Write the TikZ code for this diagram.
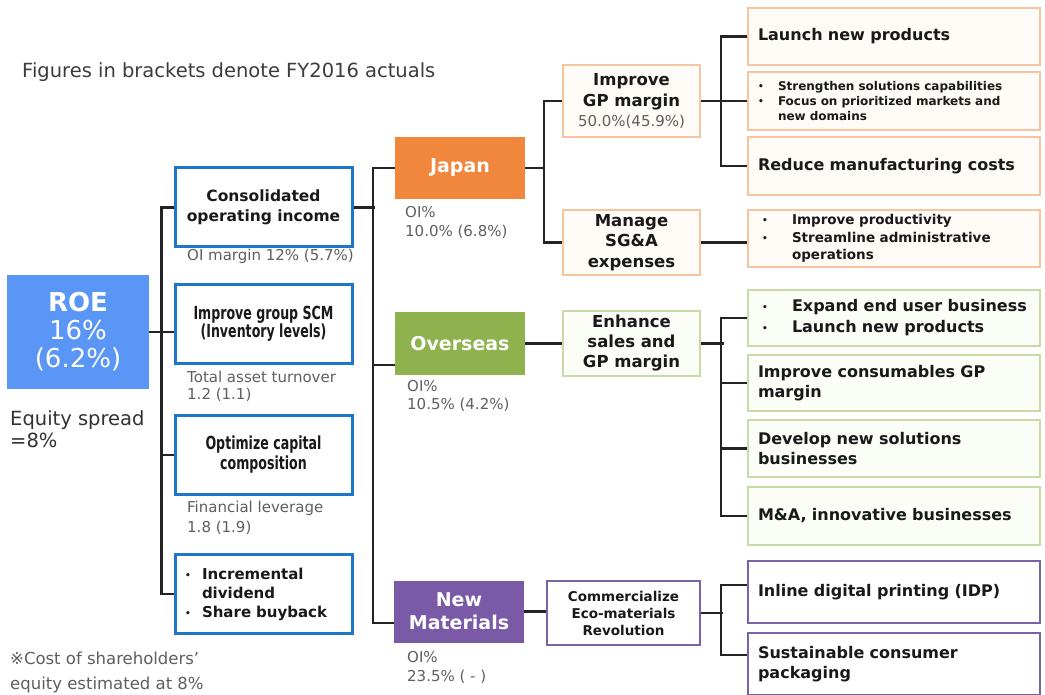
\documentclass[tikz,border=0pt]{standalone}
\usepackage{fontspec}
\setmainfont{DejaVu Sans}
\usepackage{graphicx}
\usetikzlibrary{calc}
\definecolor{roeblue}{RGB}{90,150,245}
\definecolor{jporange}{RGB}{240,135,60}
\definecolor{ovgreen}{RGB}{142,178,78}
\definecolor{nmpurple}{RGB}{122,90,166}
\definecolor{bluebd}{RGB}{30,118,200}
\definecolor{orbd}{RGB}{246,196,160}
\definecolor{grbd}{RGB}{200,218,165}
\definecolor{pubd}{RGB}{120,100,165}
\definecolor{orfill}{RGB}{255,251,246}
\definecolor{grfill}{RGB}{251,253,247}
\definecolor{linec}{RGB}{35,35,35}
\definecolor{notec}{RGB}{95,95,95}
\definecolor{txtc}{RGB}{25,25,25}
\newcommand\fsz[2]{\fontsize{#1}{#2}\selectfont}
\newcommand\bul{\makebox[0pt][l]{\fsz{9}{9}\raisebox{1pt}{•}}}
\newcommand\cond[1]{\scalebox{0.7}[1]{#1}}
\begin{document}
\begin{tikzpicture}[x=1pt,y=-1pt,
 conn/.style={draw=linec,line width=2.2pt},
 bx/.style={draw, line width=2pt, inner sep=0pt, text=txtc, align=center},
 bluebox/.style={bx, draw=bluebd, line width=3pt, minimum width=177, minimum height=79, font=\bfseries\fsz{15.5}{20}},
 region/.style={inner sep=0pt, text=white, align=center, font=\bfseries\fsz{19}{23}, minimum width=130, minimum height=62},
 orbox/.style={bx, draw=orbd, fill=orfill},
 grbox/.style={bx, draw=grbd, fill=grfill},
 pubox/.style={bx, draw=pubd, fill=white},
 midbox/.style={minimum width=137, font=\bfseries\fsz{16.5}{20.5}},
 rbox/.style={minimum width=292, text width=272, align=left, font=\bfseries\fsz{16}{20.5}},
 note/.style={inner sep=0pt, anchor=west, align=left, text=notec},
]
\useasboundingbox (0,0) rectangle (1045,695);
\fill[white] (0,0) rectangle (1045,695);

% texts
\node[note, text={rgb,255:red,60;green,60;blue,60}, font=\fsz{19.5}{23}] (fig) at (22,72) {Figures in brackets denote FY2016 actuals};
\node[fill=roeblue, inner sep=0pt, minimum width=142, minimum height=114, text=white, align=center, font=\fsz{26}{28}] (roe) at (78,332) {\textbf{ROE}\\16\%\\(6.2\%)};
\node[note, text={rgb,255:red,50;green,50;blue,50}, font=\fsz{19.5}{22}] (eq) at (10,429) {Equity spread\\=8\%};
\node[note, font=\fsz{16.5}{25}] (cost) at (10,672) {※Cost of shareholders’\\equity estimated at 8\%};

% blue boxes
\node[bluebox] (coi) at (263.5,207.5) {Consolidated\\operating income};
\node[note, font=\fsz{15}{18}] (coin) at (187,256) {OI margin 12\% (5.7\%)};
\node[bluebox, font=\bfseries\fsz{18}{18}] (scm) at (263.5,324) {\cond{Improve group SCM}\\\cond{(Inventory levels)}};
\node[note, font=\fsz{15}{17}] (scmn) at (187,386) {Total asset turnover\\1.2 (1.1)};
\node[bluebox, font=\bfseries\fsz{18}{20}] (opt) at (263.5,455) {\cond{Optimize capital}\\\cond{composition}};
\node[note, font=\fsz{15}{20}] (optn) at (187,518) {Financial leverage\\1.8 (1.9)};
\node[bluebox, align=left, text width=157, font=\bfseries\fsz{15}{19}] (inc) at (263.5,594) {\bul\hspace{17pt}Incremental\\\hspace{17pt}dividend\\\bul\hspace{17pt}Share buyback};

% regions
\node[region, fill=jporange] (jp) at (460,168) {Japan};
\node[note, font=\fsz{15}{19}] (jpn) at (405,222.5) {OI\%\\10.0\% (6.8\%)};
\node[region, fill=ovgreen] (ov) at (460,343.5) {Overseas};
\node[note, font=\fsz{15}{18}] (ovn) at (407,396) {OI\%\\10.5\% (4.2\%)};
\node[region, fill=nmpurple] (nm) at (459,611.5) {New\\Materials};
\node[note, font=\fsz{15}{19}] (nmn) at (407,667.5) {OI\%\\23.5\% ( - )};

% middle boxes
\node[orbox, midbox, minimum height=72] (gp) at (631.5,101) {Improve\\GP margin\\{\mdseries\color{notec}\fsz{15}{20.5}50.0\%(45.9\%)}};
\node[orbox, midbox, minimum height=65] (sga) at (631.5,242.5) {Manage\\SG\&A\\expenses};
\node[grbox, midbox, minimum height=65, font=\bfseries\fsz{16.5}{20}] (en) at (631.5,343.5) {Enhance\\sales and\\GP margin};
\node[pubox, minimum width=153, minimum height=64, font=\bfseries\fsz{13.5}{17}] (cm) at (623.5,613) {Commercialize\\Eco-materials\\Revolution};

% right boxes
\node[orbox, rbox, minimum height=57] (l1) at (894,36.5) {Launch new products};
\node[orbox, rbox, minimum height=58, font=\bfseries\fsz{12}{15}] (l2) at (894,101) {\bul\hspace{20pt}Strengthen solutions capabilities\\\bul\hspace{20pt}Focus on prioritized markets and\\\hspace{20pt}new domains};
\node[orbox, rbox, minimum height=58] (l3) at (894,166) {Reduce manufacturing costs};
\node[orbox, rbox, minimum height=57, font=\bfseries\fsz{13.5}{17.5}] (s1) at (894,238.5) {\hspace{4pt}\bul\hspace{30pt}Improve productivity\\\hspace{4pt}\bul\hspace{30pt}Streamline administrative\\\hspace{34pt}operations};
\node[grbox, rbox, minimum height=56, font=\bfseries\fsz{16}{21}] (o1) at (894,318) {\hspace{4pt}\bul\hspace{30pt}Expand end user business\\\hspace{4pt}\bul\hspace{30pt}Launch new products};
\node[grbox, rbox, minimum height=56] (o2) at (894,383) {Improve consumables GP\\margin};
\node[grbox, rbox, minimum height=57] (o3) at (894,448.5) {Develop new solutions\\businesses};
\node[grbox, rbox, minimum height=58] (o4) at (894,516) {M\&A, innovative businesses};
\node[pubox, rbox, minimum height=62] (n1) at (894,592) {Inline digital printing (IDP)};
\node[pubox, rbox, minimum height=62] (n2) at (894,664) {Sustainable consumer\\packaging};

% connectors
\draw[conn] (roe.east) -- (roe.east -| scm.west);
\draw[conn] (coi.west) -- ++(-12,0) |- (inc.west);
\draw[conn] (opt.west) -- ++(-12,0);
\draw[conn] (coi.east) -- ++(21,0);
\draw[conn] (jp.west) -- ++(-22,0) |- ($(nm.west)+(0,11.5)$);
\draw[conn] ($(ov.west)+(0,21.5)$) -- ++(-22,0);
\draw[conn] (jp.east) -- ++(20,0);
\draw[conn] (gp.west) -- ++(-18,0) |- (sga.west);
\draw[conn] (gp.east) -- (gp.east -| l2.west);
\draw[conn] (l1.west) -- ++(-26,0) |- (l3.west);
\draw[conn] (sga.east) -- (sga.east -| s1.west);
\draw[conn] (ov.east) -- (en.west);
\draw[conn] (en.east) -- ++(23,0);
\draw[conn] (o1.west) -- ++(-26,0) |- (o4.west);
\draw[conn] (o2.west) -- ++(-26,0);
\draw[conn] (o3.west) -- ++(-26,0);
\draw[conn] (nm.east) -- (nm.east -| cm.west);
\draw[conn] (cm.east) -- ++(22,0);
\draw[conn] ($(n1.west)+(0,-7)$) -- ++(-26,0) |- ($(n2.west)+(0,-9)$);
\end{tikzpicture}
\end{document}
